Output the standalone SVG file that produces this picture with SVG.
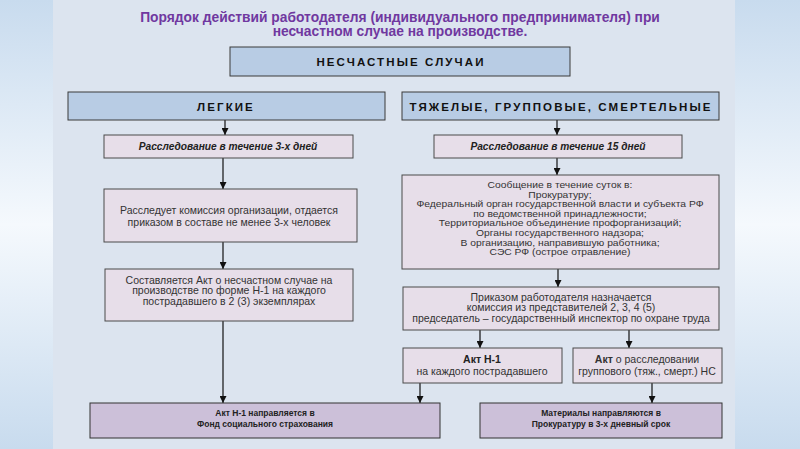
<svg xmlns="http://www.w3.org/2000/svg" width="800" height="449" viewBox="0 0 800 449">
<defs>
<linearGradient id="band" x1="0" y1="0" x2="0" y2="1">
<stop offset="0" stop-color="#c8dbee"/>
<stop offset="0.5" stop-color="#f5f9fd"/>
<stop offset="1" stop-color="#c8dbee"/>
</linearGradient>
<marker id="ah" viewBox="0 0 10 10" refX="10" refY="5" markerWidth="7" markerHeight="7" markerUnits="userSpaceOnUse" orient="auto">
<path d="M0,0 L10,5 L0,10 z" fill="#111"/>
</marker>
<style>
.hdr{fill:#b8cce4;stroke:#3a3a3a;stroke-width:1}
.pk{fill:#e7dee9;stroke:#4a4a4a;stroke-width:1}
.bt{fill:#ccc0d9;stroke:#333;stroke-width:1}
.ht{font-family:"Liberation Sans",Arial,sans-serif;font-weight:bold;font-size:11.5px;fill:#111;text-anchor:middle;letter-spacing:2.1px}
.it{font-family:"Liberation Sans",Arial,sans-serif;font-weight:bold;font-style:italic;font-size:10.2px;fill:#222;text-anchor:middle}
.tx{font-family:"Liberation Sans",Arial,sans-serif;font-size:10.5px;fill:#333;text-anchor:middle}
.ts{font-family:"Liberation Sans",Arial,sans-serif;font-size:8.6px;fill:#333;text-anchor:middle}
.bb{font-family:"Liberation Sans",Arial,sans-serif;font-weight:bold;font-size:8.5px;fill:#222;text-anchor:middle}
.bb2{font-family:"Liberation Sans",Arial,sans-serif;font-weight:bold;font-size:10.5px;fill:#222;text-anchor:middle}
.ti{font-family:"Liberation Sans",Arial,sans-serif;font-weight:bold;font-size:13.8px;fill:#7038a0;text-anchor:middle}
.cn{stroke:#111;stroke-width:1.2;fill:none}
</style>
</defs>
<rect x="0" y="0" width="800" height="449" fill="#dce4ef"/>
<rect x="0" y="0" width="53" height="449" fill="url(#band)"/>
<rect x="735" y="0" width="65" height="449" fill="url(#band)"/>

<g id="title">
<text class="ti" x="400" y="22">Порядок действий работодателя (индивидуального предпринимателя) при</text>
<text class="ti" x="400" y="36">несчастном случае на производстве.</text>
</g>

<g id="connectors">
<line class="cn" x1="225" y1="120" x2="225" y2="135" marker-end="url(#ah)"/>
<line class="cn" x1="223" y1="158" x2="223" y2="189" marker-end="url(#ah)"/>
<line class="cn" x1="223" y1="242" x2="223" y2="269" marker-end="url(#ah)"/>
<line class="cn" x1="223" y1="321" x2="223" y2="403" marker-end="url(#ah)"/>
<line class="cn" x1="557" y1="120" x2="557" y2="135" marker-end="url(#ah)"/>
<line class="cn" x1="557" y1="158" x2="557" y2="175" marker-end="url(#ah)"/>
<line class="cn" x1="558" y1="269" x2="558" y2="287" marker-end="url(#ah)"/>
<line class="cn" x1="480" y1="330" x2="480" y2="348" marker-end="url(#ah)"/>
<line class="cn" x1="629" y1="330" x2="629" y2="348" marker-end="url(#ah)"/>
<line class="cn" x1="420" y1="383" x2="420" y2="403" marker-end="url(#ah)"/>
<line class="cn" x1="652" y1="383" x2="652" y2="403" marker-end="url(#ah)"/>
</g>

<g id="n-main">
<rect class="hdr" x="230" y="47" width="340" height="29"/>
<text class="ht" x="401" y="65.5">НЕСЧАСТНЫЕ СЛУЧАИ</text>
</g>

<g id="n-light">
<rect class="hdr" x="68" y="92" width="317" height="28"/>
<text class="ht" x="226" y="110.5">ЛЕГКИЕ</text>
</g>

<g id="n-heavy">
<rect class="hdr" x="402" y="92" width="317" height="28"/>
<text class="ht" x="561" y="110.5">ТЯЖЕЛЫЕ, ГРУППОВЫЕ, СМЕРТЕЛЬНЫЕ</text>
</g>

<g id="n-inv3">
<rect class="pk" x="104" y="135" width="249" height="23"/>
<text class="it" x="228" y="150">Расследование в течение 3-х дней</text>
</g>

<g id="n-inv15">
<rect class="pk" x="434" y="135" width="248" height="23"/>
<text class="it" x="558" y="150">Расследование в течение 15 дней</text>
</g>

<g id="n-commission">
<rect class="pk" x="104" y="189" width="253" height="53"/>
<text class="tx" x="229" y="213.5">Расследует комиссия организации, отдается</text>
<text class="tx" x="229" y="225.5">приказом в составе не менее 3-х человек</text>
</g>

<g id="n-act-light">
<rect class="pk" x="105" y="269" width="248" height="52"/>
<text class="tx" x="229" y="283.5">Составляется Акт о несчастном случае на</text>
<text class="tx" x="229" y="294">производстве по форме Н-1 на каждого</text>
<text class="tx" x="229" y="304.5">пострадавшего в 2 (3) экземплярах</text>
</g>

<g id="n-report">
<rect class="pk" x="402" y="175" width="317" height="94"/>
<g transform="translate(560,0) scale(1.2,1) translate(-560,0)">
<text class="ts" x="560" y="188">Сообщение в течение суток в:</text>
<text class="ts" x="560" y="197.6">Прокуратуру;</text>
<text class="ts" x="560" y="207.2">Федеральный орган государственной власти и субъекта РФ</text>
<text class="ts" x="560" y="216.8">по ведомственной принадлежности;</text>
<text class="ts" x="560" y="226.4">Территориальное объединение профорганизаций;</text>
<text class="ts" x="560" y="236">Органы государственного надзора;</text>
<text class="ts" x="560" y="245.6">В организацию, направившую работника;</text>
<text class="ts" x="560" y="255.2">СЭС РФ (острое отравление)</text>
</g>
</g>

<g id="n-order">
<rect class="pk" x="403" y="287" width="316" height="43"/>
<text class="tx" x="561" y="300.5">Приказом работодателя назначается</text>
<text class="tx" x="561" y="311">комиссия из представителей 2, 3, 4 (5)</text>
<text class="tx" x="561" y="321.5">председатель – государственный инспектор по охране труда</text>
</g>

<g id="n-act-h1">
<rect class="pk" x="403" y="348" width="159" height="35"/>
<text class="bb2" x="482" y="363">Акт Н-1</text>
<text class="tx" x="482" y="374.5">на каждого пострадавшего</text>
</g>

<g id="n-act-group">
<rect class="pk" x="573" y="348" width="149" height="35"/>
<text class="tx" x="647" y="363"><tspan font-weight="bold">Акт</tspan> о расследовании</text>
<text class="tx" x="647" y="374.5">группового (тяж., смерт.) НС</text>
</g>

<g id="n-fss">
<rect class="bt" x="90" y="403" width="350" height="35"/>
<text class="bb" x="265" y="416">Акт Н-1 направляется в</text>
<text class="bb" x="265" y="427">Фонд социального страхования</text>
</g>

<g id="n-prosecutor">
<rect class="bt" x="480" y="403" width="242" height="35"/>
<text class="bb" x="601" y="416">Материалы направляются в</text>
<text class="bb" x="601" y="427">Прокуратуру в 3-х дневный срок</text>
</g>
</svg>
